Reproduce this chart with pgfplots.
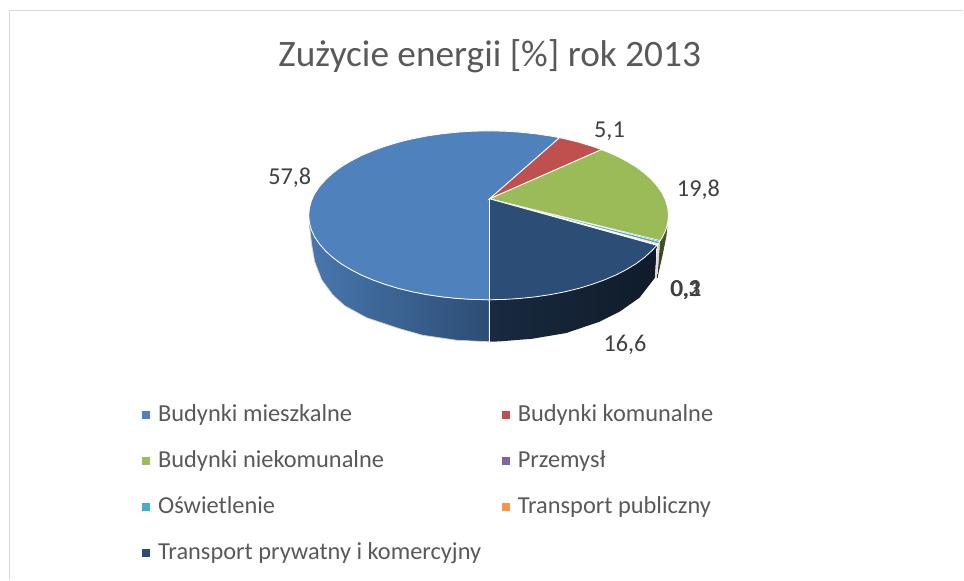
\documentclass[border=0pt]{standalone}
\usepackage{pgfplots}
\pgfplotsset{compat=1.18}
\usepackage{fontspec}
\setmainfont{Carlito}
\definecolor{cblue}{HTML}{4F81BD}
\definecolor{cred}{HTML}{C0504D}
\definecolor{cgreen}{HTML}{9BBB59}
\definecolor{cpurple}{HTML}{8064A2}
\definecolor{cteal}{HTML}{4BACC6}
\definecolor{corange}{HTML}{F79646}
\definecolor{cnavy}{HTML}{2C4D75}
\definecolor{ctext}{HTML}{595959}
\definecolor{clabel}{HTML}{404040}
\begin{document}
\begin{tikzpicture}
\begin{axis}[scale only axis,width=723pt,height=435pt,xmin=0,xmax=964,ymin=0,ymax=580,y dir=reverse,axis lines=none,clip=false,
 every axis plot/.append style={forget plot}]
\path (axis cs:0,0) rectangle (axis cs:964,580);
% frame
\addplot[color=black!15,line width=1.2pt] coordinates {(9.5,580)(9.5,10.5)(964,10.5)};
% side walls
\addplot[draw=black!18,line width=0.5pt,left color=cblue!92!black,right color=cnavy] coordinates {(309.7,222.9)(311.7,230.2)(315.1,237.4)(319.9,244.4)(325.9,251.2)(333.1,257.75)(341.5,264)(351.1,269.8)(361.7,275.3)(373.3,280.2)(385.8,284.7)(399,288.7)(412.9,292.1)(427.4,294.9)(442.4,297.1)(457.8,298.7)(473.3,299.7)(489.5,300)(489.5,342)(457,340.5)(423,335.5)(400,329)(367,318)(345,306)(333,295)(322,280)(315,262)(312,245)(310,228)} -- cycle;
\addplot[draw=none,left color=cnavy!55!black,right color=cnavy!35!black] coordinates {(490,300)(504.7,299.7)(520.2,298.7)(535.6,297.1)(550.6,294.9)(565.1,292.1)(579,288.7)(592.2,284.7)(604.7,280.2)(616.3,275.3)(626.9,269.8)(636.5,264)(644.9,257.75)(652.1,251.2)(657.5,245.5)(655.5,278)(640,298)(620,312)(600,322)(566.7,333.3)(533,339)(500,341.7)(490,342)} -- cycle;
\addplot[draw=none,fill=black!12] coordinates {(657.5,245.5)(660.7,241)(657.5,279)(655.5,278)} -- cycle;
\addplot[draw=none,top color=cgreen!50!black,bottom color=cgreen!30!black] coordinates {(660.7,241)(662.9,237.4)(666.3,230.2)(668,226)(667,236)(663,256)(658,278)} -- cycle;
% top slices
\addplot[draw=white,line width=0.6pt,fill=cblue] coordinates {(490,199)(490,300)(473.3,299.7)(457.8,298.7)(442.4,297.1)(427.4,294.9)(412.9,292.1)(399,288.7)(385.8,284.7)(373.3,280.2)(361.7,275.3)(351.1,269.8)(341.5,264)(333.1,257.75)(325.9,251.2)(319.9,244.4)(315.1,237.4)(311.7,230.2)(309.7,222.9)(309,215.5)(309.7,208.1)(311.7,200.8)(315.1,193.6)(319.9,186.6)(325.9,179.8)(333.1,173.25)(341.5,167)(351.1,161.2)(361.7,155.7)(373.3,150.8)(385.8,146.3)(399,142.3)(412.9,138.9)(427.4,136.1)(442.4,133.9)(457.8,132.3)(473.3,131.3)(489,131)(504.7,131.3)(520.2,132.3)(535.6,133.9)(550.6,136.1)(560,137.8)} -- cycle;
\addplot[draw=white,line width=0.6pt,fill=cred] coordinates {(490,199)(560,137.8)(565.1,138.9)(579,142.3)(592.2,146.3)(602,149.7)} -- cycle;
\addplot[draw=white,line width=0.6pt,fill=cgreen] coordinates {(490,199)(602,149.7)(604.7,150.8)(616.3,155.7)(626.9,161.2)(636.5,167)(644.9,173.25)(652.1,179.8)(658.1,186.6)(662.9,193.6)(666.3,200.8)(668.3,208.1)(669,215.5)(668.3,222.9)(666.3,230.2)(662.9,237.4)(660.7,240.9)} -- cycle;
\addplot[draw=white,line width=0.3pt,fill=cpurple] coordinates {(490,199)(660.7,240.9)(660.2,241.9)} -- cycle;
\addplot[draw=white,line width=0.3pt,fill=cteal] coordinates {(490,199)(660.2,241.9)(658.6,243.9)} -- cycle;
\addplot[draw=white,line width=0.3pt,fill=corange] coordinates {(490,199)(658.6,243.9)(657.9,244.7)} -- cycle;
\addplot[draw=white,line width=0.6pt,fill=cnavy] coordinates {(490,199)(657.5,245.5)(652.1,251.2)(644.9,257.75)(636.5,264)(626.9,269.8)(616.3,275.3)(604.7,280.2)(592.2,284.7)(579,288.7)(565.1,292.1)(550.6,294.9)(535.6,297.1)(520.2,298.7)(504.7,299.7)(490,300)} -- cycle;
\addplot[color=white,line width=0.6pt] coordinates {(490,300)(490,342)};
% legend markers
\addplot[only marks,mark=square*,mark size=2.8pt,color=cblue] coordinates {(146,415)};
\addplot[only marks,mark=square*,mark size=2.8pt,color=cred] coordinates {(506,415)};
\addplot[only marks,mark=square*,mark size=2.8pt,color=cgreen] coordinates {(146,461)};
\addplot[only marks,mark=square*,mark size=2.8pt,color=cpurple] coordinates {(506,461)};
\addplot[only marks,mark=square*,mark size=2.8pt,color=cteal] coordinates {(146,507)};
\addplot[only marks,mark=square*,mark size=2.8pt,color=corange] coordinates {(506,507)};
\addplot[only marks,mark=square*,mark size=2.8pt,color=cnavy] coordinates {(146,553)};
% title
\node[text=ctext,font=\fontsize{28}{32}\selectfont,anchor=center] at (axis cs:490,56) {Zużycie energii [\%] rok 2013};
% data labels
\tikzset{dl/.style={text=clabel,font=\fontsize{18.2}{22}\selectfont,anchor=center,inner sep=0pt}}
\node[dl] at (axis cs:290,178) {57,8};
\node[dl] at (axis cs:610,131) {5,1};
\node[dl] at (axis cs:699,190) {19,8};
\node[dl] at (axis cs:686,290) {0,3};
\node[dl] at (axis cs:686.5,290.5) {0,2};
\node[dl] at (axis cs:687,290) {0,1};
\node[dl] at (axis cs:625.5,345) {16,6};
% legend text
\tikzset{lt/.style={text=ctext,font=\fontsize{18.3}{22}\selectfont,anchor=base west,inner sep=0pt}}
\node[lt] at (axis cs:158,422) {Budynki mieszkalne};
\node[lt] at (axis cs:518,422) {Budynki komunalne};
\node[lt] at (axis cs:158,468) {Budynki niekomunalne};
\node[lt] at (axis cs:518,468) {Przemysł};
\node[lt] at (axis cs:158,514) {Oświetlenie};
\node[lt] at (axis cs:518,514) {Transport publiczny};
\node[lt] at (axis cs:158,560) {Transport prywatny i komercyjny};
\end{axis}
\end{tikzpicture}
\end{document}
